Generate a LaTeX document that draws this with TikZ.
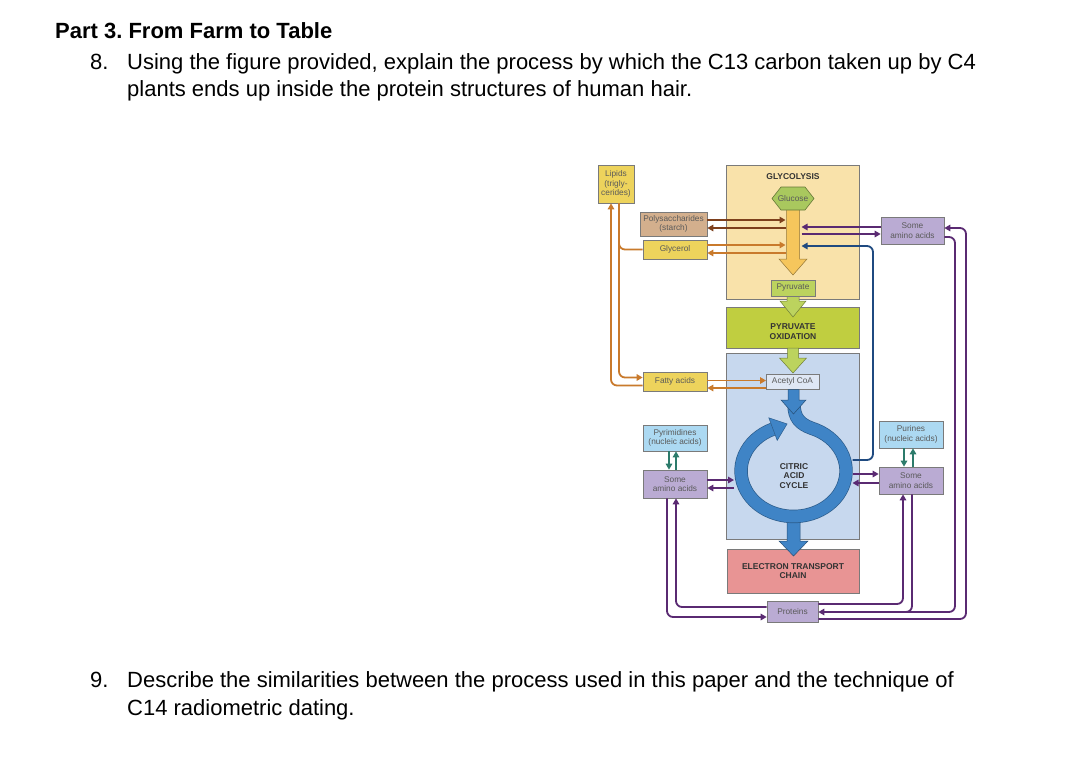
\documentclass[tikz,border=0pt]{standalone}
\usepackage{fontspec}
\setmainfont{Liberation Sans}
\frenchspacing
\usetikzlibrary{arrows.meta,shadows}
\definecolor{bxgray}{HTML}{7A7A7A}
\definecolor{txgray}{HTML}{5A5A5A}
\definecolor{lipidY}{HTML}{EDD35C}
\definecolor{polyTan}{HTML}{D3AF8D}
\definecolor{glycBG}{HTML}{F9E2AA}
\definecolor{gluG}{HTML}{A9C85E}
\definecolor{pyrG}{HTML}{BCD35E}
\definecolor{poG}{HTML}{C0CE40}
\definecolor{citB}{HTML}{C7D8EE}
\definecolor{acB}{HTML}{DFE7F4}
\definecolor{ringB}{HTML}{3F84C6}
\definecolor{etcR}{HTML}{E89494}
\definecolor{lavP}{HTML}{BAABD3}
\definecolor{ltB}{HTML}{ACD9F2}
\definecolor{brnC}{HTML}{7E401C}
\definecolor{orgC}{HTML}{C97A2C}
\definecolor{purC}{HTML}{5A2A72}
\definecolor{tealC}{HTML}{2C7B6B}
\definecolor{navyC}{HTML}{1F4A80}
\definecolor{yarrow}{HTML}{F6C65C}
\newcommand\blk[7]{\filldraw[fill=#1,draw=#1!60!black,line width=0.5pt] ({#2-#6},#3) -- ({#2-#6},#4) -- ({#2-#7},#4) -- (#2,#5) -- ({#2+#7},#4) -- ({#2+#6},#4) -- ({#2+#6},#3) -- cycle;}
\begin{document}
\begin{tikzpicture}[x=1pt,y=-1pt,
 shd/.style={drop shadow={shadow xshift=1.3pt,shadow yshift=-1.3pt,opacity=0.3}},
 bx/.style={shd,draw=bxgray,line width=0.7pt,inner sep=0pt,align=center,text=txgray,font=\fontsize{8.3}{9.6}\selectfont},
 big/.style={shd,draw=bxgray,line width=0.7pt,inner sep=0pt,align=center},
 lbl/.style={inner sep=0pt,align=center,text=black!80,font=\bfseries\fontsize{8.5}{9.8}\selectfont},
 conn/.style={line width=1.8pt,rounded corners=6pt},
 tip/.style={-{Triangle[length=6pt,width=6.5pt]}},
 qtext/.style={anchor=base west,inner sep=0pt,font=\fontsize{22}{26}\selectfont}]
\fill[white] (0,0) rectangle (1065,766);
% question text
\node[qtext,font=\bfseries\fontsize{22}{26}\selectfont] (part) at (55,38) {Part 3. From Farm to Table};
\node[qtext] (n8) at (90,69) {8.};
\node[qtext] (q8a) at (127,69) {Using the figure provided, explain the process by which the C13 carbon taken up by C4};
\node[qtext] (q8b) at (127,96) {plants ends up inside the protein structures of human hair.};
\node[qtext] (n9) at (90,687) {9.};
\node[qtext] (q9a) at (127,687) {Describe the similarities between the process used in this paper and the technique of};
\node[qtext] (q9b) at (127,715) {C14 radiometric dating.};
% big boxes
\node[big,fill=glycBG,minimum width=133pt,minimum height=134pt] (glycbox) at (792.5,232) {};
\node[big,fill=poG,minimum width=133pt,minimum height=41pt] (pobox) at (792.5,327.5) {};
\node[big,fill=citB,minimum width=133pt,minimum height=186pt] (citbox) at (792.5,446) {};
\node[big,fill=etcR,minimum width=132pt,minimum height=44pt,lbl] (etc) at (793,571) {ELECTRON TRANSPORT\\CHAIN};
\node[lbl] (glyclbl) at (793,177) {GLYCOLYSIS};
\node[lbl] (polbl) at (793,332) {PYRUVATE\\OXIDATION};
\node[lbl] (citlbl) at (794,476) {CITRIC\\ACID\\CYCLE};
% reference coordinates
\coordinate (shaftL) at (785.5,0);
\coordinate (shaftR) at (801.5,0);
\coordinate (ringLo) at (734,0);
\coordinate (ringRo) at (852.5,0);
% small boxes
\node[bx,fill=lipidY,minimum width=36pt,minimum height=38pt] (lipids) at (616,184) {Lipids\\(trigly-\\cerides)};
\node[bx,fill=polyTan,minimum width=67pt,minimum height=24pt] (polys) at (673.5,224) {Polysaccharides\\(starch)};
\node[bx,fill=lipidY,minimum width=64pt,minimum height=19pt] (glycerol) at (675,249.5) {Glycerol};
\node[bx,fill=lipidY,minimum width=64pt,minimum height=19pt] (fatty) at (675,381.5) {Fatty acids};
\node[bx,fill=ltB,minimum width=64pt,minimum height=26pt] (pyrim) at (675,438) {Pyrimidines\\(nucleic acids)};
\node[bx,fill=lavP,minimum width=64pt,minimum height=28pt] (saaL) at (675,484) {Some\\amino acids};
\node[bx,fill=ltB,minimum width=64pt,minimum height=27pt] (purines) at (911,434.5) {Purines\\(nucleic acids)};
\node[bx,fill=lavP,minimum width=64pt,minimum height=27pt] (saaR) at (911,480.5) {Some\\amino acids};
\node[bx,fill=lavP,minimum width=63pt,minimum height=27pt] (saaT) at (912.5,230.5) {Some\\amino acids};
\node[bx,fill=lavP,minimum width=51pt,minimum height=21pt] (proteins) at (792.5,611.5) {Proteins};
% connectors: lipids
\draw[conn,orgC] ([xshift=3pt]lipids.south) -- (619,249.5) -- (glycerol.west);
\draw[conn,orgC,tip] ([xshift=3pt]lipids.south) -- (619,377.5) -- (fatty.west |- 0,377.5);
\draw[conn,orgC,tip] (fatty.west |- 0,385.5) -- (611,385.5) -- ([xshift=-5pt]lipids.south);
% polysaccharides, glycerol
\draw[conn,brnC,tip] (polys.east |- 0,220) -- (shaftL |- 0,220);
\draw[conn,brnC,tip] (shaftL |- 0,228) -- (polys.east |- 0,228);
\draw[conn,orgC,tip] (glycerol.east |- 0,245) -- (shaftL |- 0,245);
\draw[conn,orgC,tip] (shaftL |- 0,253) -- (glycerol.east |- 0,253);
% top amino acids
\draw[conn,purC,tip] (saaT.west |- 0,227) -- (shaftR |- 0,227);
\draw[conn,purC,tip] (shaftR |- 0,234) -- (saaT.west |- 0,234);
% navy line
\draw[conn,navyC,tip] (ringRo |- 0,460) -- (873,460) -- (873,246) -- (shaftR |- 0,246);
% fatty acids
\draw[conn,orgC,tip] (fatty.east |- 0,380.5) -- (766,380.5);
\draw[conn,orgC,tip] (766,388) -- (fatty.east |- 0,388);
% teal
\draw[line width=1.8pt,tealC,tip] (pyrim.south -| 669,0) -- (saaL.north -| 669,0);
\draw[line width=1.8pt,tealC,tip] (saaL.north -| 676,0) -- (pyrim.south -| 676,0);
\draw[line width=1.8pt,tealC,tip] (purines.south -| 904,0) -- (saaR.north -| 904,0);
\draw[line width=1.8pt,tealC,tip] (saaR.north -| 913,0) -- (purines.south -| 913,0);
% amino acids <-> cycle
\draw[conn,purC,tip] (saaL.east |- 0,480) -- (ringLo |- 0,480);
\draw[conn,purC,tip] (ringLo |- 0,488) -- (saaL.east |- 0,488);
\draw[conn,purC,tip] (ringRo |- 0,474) -- (saaR.west |- 0,474);
\draw[conn,purC,tip] (saaR.west |- 0,483) -- (ringRo |- 0,483);
% proteins
\draw[conn,purC,tip] (saaL.south -| 667,0) -- (667,617) -- (proteins.west |- 0,617);
\draw[conn,purC,tip] (proteins.west |- 0,607) -- (676,607) -- (saaL.south -| 676,0);
\draw[conn,purC,tip] (proteins.east |- 0,604) -- (903,604) -- (saaR.south -| 903,0);
\draw[conn,purC,tip] (saaR.south -| 912,0) -- (912,612) -- (proteins.east |- 0,612);
\draw[conn,purC] (saaT.east |- 0,237) -- (955,237) -- (955,612) -- (905,612);
\draw[conn,purC,tip] (proteins.east |- 0,619) -- (966,619) -- (966,228) -- (saaT.east |- 0,228);
% block arrows
\blk{yarrow}{793}{209}{259}{275}{6.5}{14}
\filldraw[fill=gluG,draw=gluG!60!black,line width=0.6pt] (772,198.5) -- (781,187) -- (805,187) -- (814,198.5) -- (805,210) -- (781,210) -- cycle;
\node[inner sep=0pt,text=txgray,font=\fontsize{8.3}{9.6}\selectfont] (glucose) at (793,198.5) {Glucose};
\blk{pyrG}{793}{296}{301}{317}{6}{13}
\blk{pyrG}{793}{348}{358}{373}{5.5}{13.5}
\node[bx,fill=pyrG,minimum width=44pt,minimum height=16pt] (pyruvate) at (793,288) {Pyruvate};
\node[bx,fill=acB,minimum width=53pt,minimum height=15pt] (acetyl) at (792.5,381.5) {Acetyl CoA};
% citric acid cycle ring
\blk{ringB}{793.5}{515}{541}{556}{6.5}{14.5}
\draw[ringB!70!black,line width=13.4pt] (794,404) .. controls (794,418) and (800,424) .. (811.5,428.2) arc[start angle=-70,end angle=247,x radius=52.5,y radius=45.5];
\draw[ringB,line width=12pt] (794,404) .. controls (794,418) and (800,424) .. (811.5,428.2) arc[start angle=-70,end angle=247,x radius=52.5,y radius=45.5];
\filldraw[fill=ringB,draw=ringB!70!black,line width=0.5pt] (777.2,440.4) -- (787.1,423.9) -- (768.8,417.8) -- cycle;
\blk{ringB}{793.5}{389.5}{400}{414}{5.5}{12.5}
\end{tikzpicture}
\end{document}
